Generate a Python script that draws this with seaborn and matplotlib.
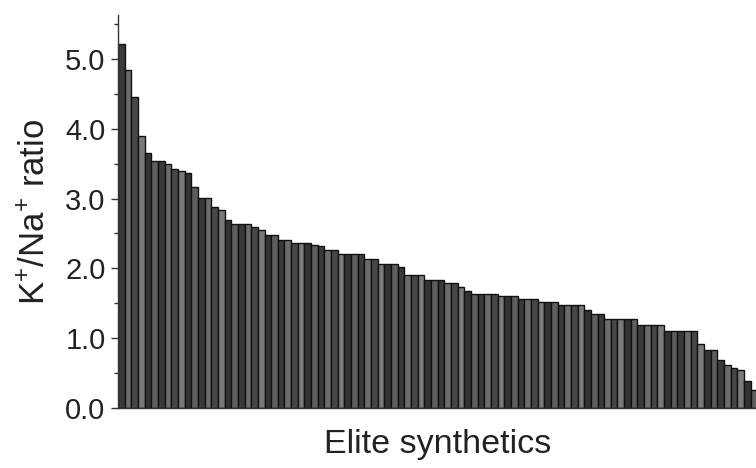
import numpy as np
import pandas as pd
import matplotlib
matplotlib.use("Agg")
import matplotlib.pyplot as plt
from matplotlib.ticker import MultipleLocator
import seaborn as sns

# K+/Na+ ratio of elite synthetic lines, sorted descending
ratios = [
    5.21, 4.84, 4.46, 3.90, 3.66, 3.54, 3.54, 3.50, 3.43, 3.39,
    3.36, 3.17, 3.01, 3.01, 2.88, 2.83, 2.70, 2.63, 2.63, 2.63,
    2.59, 2.55, 2.48, 2.48, 2.41, 2.41, 2.37, 2.37, 2.36, 2.34,
    2.32, 2.27, 2.27, 2.21, 2.21, 2.21, 2.21, 2.13, 2.13, 2.07,
    2.07, 2.07, 2.02, 1.90, 1.90, 1.90, 1.83, 1.83, 1.83, 1.79,
    1.79, 1.73, 1.68, 1.64, 1.64, 1.64, 1.64, 1.60, 1.60, 1.60,
    1.56, 1.56, 1.56, 1.52, 1.52, 1.52, 1.48, 1.48, 1.48, 1.48,
    1.40, 1.34, 1.34, 1.27, 1.27, 1.27, 1.27, 1.27, 1.19, 1.19,
    1.19, 1.19, 1.11, 1.11, 1.11, 1.11, 1.11, 0.92, 0.83, 0.83,
    0.69, 0.62, 0.57, 0.55, 0.38, 0.26,
]
lines = [f"L{i + 1}" for i in range(len(ratios))]

y_ticks = [0.0, 1.0, 2.0, 3.0, 4.0, 5.0]

df = pd.DataFrame({"line": lines, "ratio": ratios})

sns.set_style("ticks")
plt.rcParams["font.family"] = ["Liberation Sans", "DejaVu Sans"]
plt.rcParams["mathtext.fontset"] = "custom"
plt.rcParams["mathtext.rm"] = "Liberation Sans"

shades = ["#3a3a3a", "#6c6c6c", "#474747", "#7a7a7a", "#333333", "#5e5e5e"]
colors = [shades[i % len(shades)] for i in range(len(lines))]

fig = plt.figure(figsize=(7.56, 4.68), dpi=100)
ax = fig.add_axes([118 / 756, 60 / 468, 640 / 756, 393 / 468])

sns.barplot(
    data=df, x="line", y="ratio", hue="line", palette=colors,
    legend=False, width=1.0, edgecolor="#111111", linewidth=1.0,
    saturation=1, ax=ax,
)

ax.set_xlim(-0.5, len(lines) - 0.4)
ax.set_ylim(0, 5.63)
ax.set_yticks(y_ticks)
ax.set_yticklabels([f"{v:.1f}" for v in y_ticks])
ax.yaxis.set_minor_locator(MultipleLocator(0.5))
ax.set_xticks([])

ax.tick_params(axis="y", which="major", length=5, width=1.0, pad=4,
               labelsize=21, labelcolor="#222222", color="#333333")
ax.tick_params(axis="y", which="minor", length=3, width=1.0, color="#333333")

ax.set_xlabel("Elite synthetics", fontsize=24.5, color="#222222", labelpad=15)
ax.set_ylabel(r"K$^{+}$/Na$^{+}$ ratio", fontsize=25, color="#222222", labelpad=10)

sns.despine(ax=ax, top=True, right=True)
for side in ["left", "bottom"]:
    ax.spines[side].set_color("#333333")
    ax.spines[side].set_linewidth(1.0)

fig.savefig("out.png", dpi=100)
